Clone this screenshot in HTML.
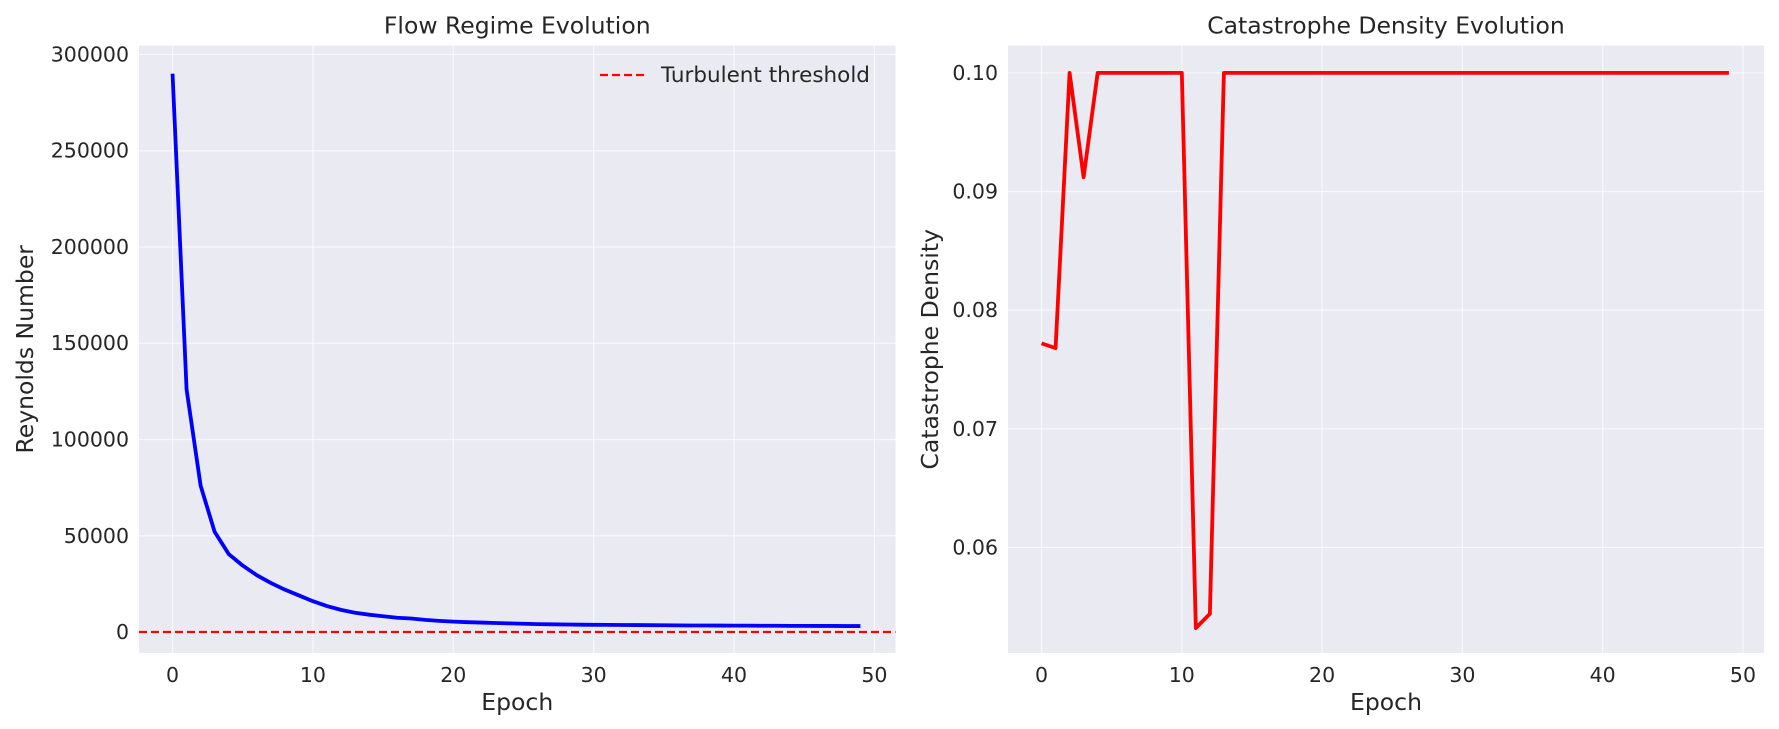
<!DOCTYPE html>
<html><head><meta charset="utf-8"><style>
body{margin:0;background:#fff;}
svg{display:block;font-family:"DejaVu Sans","Liberation Sans",sans-serif;}
</style></head><body>
<svg id="c" width="1779" height="729" xmlns="http://www.w3.org/2000/svg"></svg>
<script>
const epochs = Array.from({length:50},(_,i)=>i);
const reynolds = [290000,126000,76000,52000,40500,34500,29500,25500,22000,19000,16000,13500,11500,10000,9000,8200,7400,7000,6300,5800,5400,5100,4900,4700,4500,4300,4100,4000,3900,3800,3750,3700,3650,3600,3550,3500,3450,3400,3400,3350,3300,3300,3250,3250,3200,3200,3150,3150,3100,3100];
const density = [0.0772,0.0768,0.100,0.0912,0.100,0.100,0.100,0.100,0.100,0.100,0.100,0.0532,0.0544,0.100,0.100,0.100,0.100,0.100,0.100,0.100,0.100,0.100,0.100,0.100,0.100,0.100,0.100,0.100,0.100,0.100,0.100,0.100,0.100,0.100,0.100,0.100,0.100,0.100,0.100,0.100,0.100,0.100,0.100,0.100,0.100,0.100,0.100,0.100,0.100,0.100];
const threshold = 0;
const xTicks = [0,10,20,30,40,50];
const leftYTicks = [0,50000,100000,150000,200000,250000,300000];
const rightYTicks = [0.06,0.07,0.08,0.09,0.10];
const rightYLabels = ["0.06","0.07","0.08","0.09","0.10"];

const svg=document.getElementById('c');
const NS="http://www.w3.org/2000/svg";
function mk(tag,attrs,parent){const e=document.createElementNS(NS,tag);for(const k in attrs)e.setAttribute(k,attrs[k]);(parent||svg).appendChild(e);return e;}

function panel(cfg){
  const g=mk('g',{});
  
  
  const {x0,x1,y0,y1,xmin,xmax,ymin,ymax}=cfg;
  const sx=v=>x0+(v-xmin)/(xmax-xmin)*(x1-x0);
  const sy=v=>y1-(v-ymin)/(ymax-ymin)*(y1-y0);
  const bg=mk('rect',{x:x0,y:y0,width:x1-x0,height:y1-y0,fill:'#eaeaf2'},g);
  
  
  xTicks.forEach(t=>{
    const l=mk('line',{x1:sx(t),x2:sx(t),y1:y0,y2:y1,stroke:'#fff','stroke-width':1.2,opacity:0.7},g);
    
    
    const tx=mk('text',{x:sx(t),y:y1+29,'text-anchor':'middle','font-size':20.5,fill:'#262626'},g);
    tx.textContent=t;
    
    
  });
  cfg.yTicks.forEach((t,i)=>{
    const l=mk('line',{x1:x0,x2:x1,y1:sy(t),y2:sy(t),stroke:'#fff','stroke-width':1.2,opacity:0.7},g);
    
    
    const tx=mk('text',{x:x0-10,y:sy(t)+7,'text-anchor':'end','font-size':20.5,fill:'#262626'},g);
    tx.textContent=cfg.yLabels?cfg.yLabels[i]:t;
    
    
  });
  const title=mk('text',{x:(x0+x1)/2,y:y0-12,'text-anchor':'middle','font-size':23.5,fill:'#262626'},g);
  title.textContent=cfg.title;
  
  
  const xl=mk('text',{x:(x0+x1)/2,y:y1+57,'text-anchor':'middle','font-size':23.5,fill:'#262626'},g);
  xl.textContent='Epoch';
  
  
  const yl=mk('text',{x:0,y:0,'text-anchor':'middle','font-size':23.5,fill:'#262626',transform:`translate(${cfg.ylx},${(y0+y1)/2}) rotate(-90)`},g);
  yl.textContent=cfg.ytitle;
  
  
  return {g,sx,sy};
}

// left
const L=panel({name:'flow-regime-panel',x0:139,x1:895.5,y0:45.6,y1:653,xmin:-2.39,xmax:51.5,ymin:-10900,ymax:304600,yTicks:leftYTicks,title:'Flow Regime Evolution',ytitle:'Reynolds Number',ylx:33});
const th=mk('line',{x1:139,x2:895.5,y1:L.sy(threshold),y2:L.sy(threshold),stroke:'#ff0000','stroke-width':2.2,'stroke-dasharray':'8,4'},L.g);


const lp=mk('polyline',{points:epochs.map((e,i)=>L.sx(e)+','+L.sy(reynolds[i])).join(' '),fill:'none',stroke:'#0000ff','stroke-width':3.8,'stroke-linejoin':'round'},L.g);


const leg=mk('g',{},L.g);


mk('line',{x1:600,x2:644,y1:75,y2:75,stroke:'#ff0000','stroke-width':2.2,'stroke-dasharray':'8,4'},leg);
const lt=mk('text',{x:661,y:82,'font-size':21.5,fill:'#262626'},leg);
lt.textContent='Turbulent threshold';

// right
const R=panel({name:'catastrophe-density-panel',x0:1008,x1:1764,y0:45.6,y1:653,xmin:-2.39,xmax:51.5,ymin:0.0511,ymax:0.1023,yTicks:rightYTicks,yLabels:rightYLabels,title:'Catastrophe Density Evolution',ytitle:'Catastrophe Density',ylx:938});
const rp=mk('polyline',{points:epochs.map((e,i)=>R.sx(e)+','+R.sy(density[i])).join(' '),fill:'none',stroke:'#ff0000','stroke-width':3.8,'stroke-linejoin':'round'},R.g);


</script>
</body></html>
